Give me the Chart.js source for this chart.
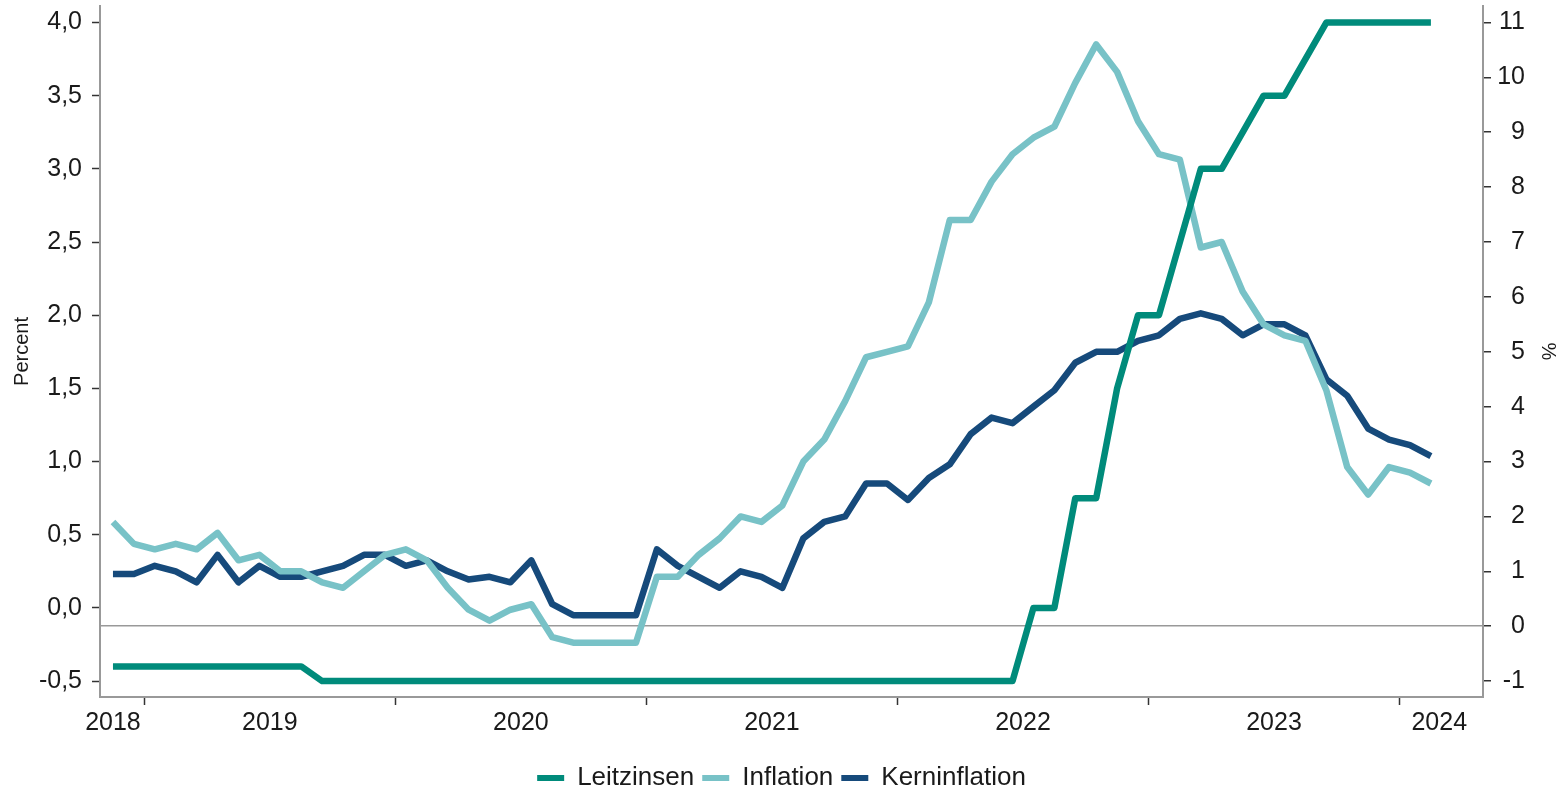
<!DOCTYPE html>
<html>
<head>
<meta charset="utf-8">
<script src="https://cdn.jsdelivr.net/npm/chart.js@4/dist/chart.umd.min.js"></script>
<style>
  html, body { margin: 0; padding: 0; background: #fff; }
</style>
</head>
<body>
<canvas id="chart" width="1563" height="791"></canvas>
<script>
// Monthly values, Nov 2018 (index 0) .. Feb 2024 (index 63)

// ECB key rate, left axis (Percent)
const leitzinsen = [
  -0.4, -0.4,
  -0.4, -0.4, -0.4, -0.4, -0.4, -0.4, -0.4, -0.4, -0.5, -0.5, -0.5, -0.5,
  -0.5, -0.5, -0.5, -0.5, -0.5, -0.5, -0.5, -0.5, -0.5, -0.5, -0.5, -0.5,
  -0.5, -0.5, -0.5, -0.5, -0.5, -0.5, -0.5, -0.5, -0.5, -0.5, -0.5, -0.5,
  -0.5, -0.5, -0.5, -0.5, -0.5, -0.5, 0, 0, 0.75, 0.75, 1.5, 2.0,
  2.0, 2.5, 3.0, 3.0, 3.25, 3.5, 3.5, 3.75, 4.0, 4.0, 4.0, 4.0,
  4.0, 4.0
];

// HICP inflation, right axis (%)
const inflation = [
  1.9, 1.5,
  1.4, 1.5, 1.4, 1.7, 1.2, 1.3, 1.0, 1.0, 0.8, 0.7, 1.0, 1.3,
  1.4, 1.2, 0.7, 0.3, 0.1, 0.3, 0.4, -0.2, -0.3, -0.3, -0.3, -0.3,
  0.9, 0.9, 1.3, 1.6, 2.0, 1.9, 2.2, 3.0, 3.4, 4.1, 4.9, 5.0,
  5.1, 5.9, 7.4, 7.4, 8.1, 8.6, 8.9, 9.1, 9.9, 10.6, 10.1, 9.2,
  8.6, 8.5, 6.9, 7.0, 6.1, 5.5, 5.3, 5.2, 4.3, 2.9, 2.4, 2.9,
  2.8, 2.6
];

// core inflation, right axis (%)
const kerninflation = [
  0.95, 0.95,
  1.1, 1.0, 0.8, 1.3, 0.8, 1.1, 0.9, 0.9, 1.0, 1.1, 1.3, 1.3,
  1.1, 1.2, 1.0, 0.85, 0.9, 0.8, 1.2, 0.4, 0.2, 0.2, 0.2, 0.2,
  1.4, 1.1, 0.9, 0.7, 1.0, 0.9, 0.7, 1.6, 1.9, 2.0, 2.6, 2.6,
  2.3, 2.7, 2.95, 3.5, 3.8, 3.7, 4.0, 4.3, 4.8, 5.0, 5.0, 5.2,
  5.3, 5.6, 5.7, 5.6, 5.3, 5.5, 5.5, 5.3, 4.5, 4.2, 3.6, 3.4,
  3.3, 3.1
];

// axis ticks
const leftTicks  = [-0.5, 0, 0.5, 1, 1.5, 2, 2.5, 3, 3.5, 4];
const rightTicks = [-1, 0, 1, 2, 3, 4, 5, 6, 7, 8, 9, 10, 11];
const yearBounds = [1.5, 13.5, 25.5, 37.5, 49.5, 61.5];       // tick marks between Dec and Jan
const yearLabels = ["2018", "2019", "2020", "2021", "2022", "2023", "2024"];
const yearLabelAt = [0, 7.5, 19.5, 31.5, 43.5, 55.5, 63.4];

const COLORS = {
    leitzinsen: "#008b7b",
    inflation: "#78c2c7",
    kern: "#164a7b"
};

const toPoints = (arr) => arr.map((v, i) => ({ x: i, y: v }));

const X_MIN = -0.62, X_MAX = 65.49;
const RIGHT_TITLE_SPACE = 38;

Chart.defaults.font.family = '"Liberation Sans", Arial, sans-serif';
Chart.defaults.color = "#1a1a1a";

function lineDataset(label, data, color, axis) {
    return {
        label,
        data: toPoints(data),
        yAxisID: axis,
        borderColor: color,
        backgroundColor: color,
        borderWidth: 6.5,
        pointRadius: 0,
        tension: 0,
        borderJoinStyle: "round"
    };
}

// legend should be centred on the whole canvas, not on the padded layout box
const legendToFullWidth = {
    id: "legendToFullWidth",
    afterLayout(chart) {
        if (chart.legend) {
            chart.legend.right += RIGHT_TITLE_SPACE;
            chart.legend.width += RIGHT_TITLE_SPACE;
        }
    }
};

new Chart(document.getElementById("chart"), {
    type: "line",
    data: {
        datasets: [
            lineDataset("Leitzinsen", leitzinsen, COLORS.leitzinsen, "y"),
            lineDataset("Inflation", inflation, COLORS.inflation, "y1"),
            lineDataset("Kerninflation", kerninflation, COLORS.kern, "y1")
        ]
    },
    plugins: [legendToFullWidth],
    options: {
        responsive: false,
        animation: false,
        events: [],
        // right side: 42px for the right axis labels + room for its title
        layout: { padding: { top: 6, bottom: -10, left: 0, right: RIGHT_TITLE_SPACE } },
        plugins: {
            tooltip: { enabled: false },
            legend: {
                position: "bottom",
                labels: {
                    font: { size: 26 },
                    boxWidth: 27,
                    boxHeight: 6,
                    padding: 8,
                    generateLabels: (chart) =>
                        Chart.defaults.plugins.legend.labels.generateLabels(chart).map((l) => ({
                            ...l, fillStyle: l.strokeStyle, lineWidth: 0
                        }))
                }
            }
        },
        scales: {
            x: {
                type: "linear",
                position: "bottom",
                weight: 0,
                min: X_MIN, max: X_MAX,
                afterBuildTicks: (s) => { s.ticks = yearBounds.map((v) => ({ value: v })); },
                ticks: { display: false },
                grid: { drawOnChartArea: false, tickLength: 8, tickColor: "#333", tickWidth: 1.5 },
                border: { color: "#999", width: 2 },
                afterFit: (s) => { s.height = 8; s.paddingLeft = 0; s.paddingRight = 0; }
            },
            xl: {
                type: "linear",
                position: "bottom",
                weight: 1,
                min: X_MIN, max: X_MAX,
                afterBuildTicks: (s) => { s.ticks = yearLabelAt.map((v) => ({ value: v })); },
                ticks: {
                    font: { size: 25 },
                    padding: 3,
                    autoSkip: false,
                    maxRotation: 0, minRotation: 0,
                    callback: (v, i) => yearLabels[i]
                },
                grid: { display: false, drawTicks: false },
                border: { display: false },
                afterFit: (s) => { s.height = 52; s.paddingLeft = 0; s.paddingRight = 0; }
            },
            y: {
                position: "left",
                min: -0.609, max: 4.113,
                afterBuildTicks: (s) => { s.ticks = leftTicks.map((v) => ({ value: v })); },
                ticks: {
                    font: { size: 25 },
                    padding: 10,
                    callback: (v) => v.toFixed(1).replace(".", ",")
                },
                grid: { drawOnChartArea: false, tickLength: 8, tickColor: "#333", tickWidth: 1.5 },
                border: { color: "#999", width: 2 },
                title: { display: true, text: "Percent", font: { size: 20 }, padding: { top: 10, bottom: 0 } },
                afterFit: (s) => { s.width = 100; s.paddingTop = 0; s.paddingBottom = 0; }
            },
            y1: {
                position: "right",
                min: -1.29, max: 11.30,
                afterBuildTicks: (s) => { s.ticks = rightTicks.map((v) => ({ value: v })); },
                ticks: {
                    font: { size: 25 },
                    crossAlign: "far",
                    callback: (v) => String(v)
                },
                // only the zero line of the right axis crosses the plot
                grid: {
                    drawOnChartArea: true,
                    color: (ctx) => (ctx.tick && ctx.tick.value === 0 ? "#999" : "rgba(0,0,0,0)"),
                    lineWidth: 1.5,
                    tickLength: 8,
                    tickColor: "#333",
                    tickWidth: 1.5
                },
                border: { color: "#999", width: 2 },
                // title sits out in the layout padding, beyond the scale box
                title: { display: true, text: "%", font: { size: 20 }, padding: { top: -35, bottom: 0 } },
                afterFit: (s) => { s.width = 42; s.paddingTop = 0; s.paddingBottom = 0; }
            }
        }
    }
});
</script>
</body>
</html>
